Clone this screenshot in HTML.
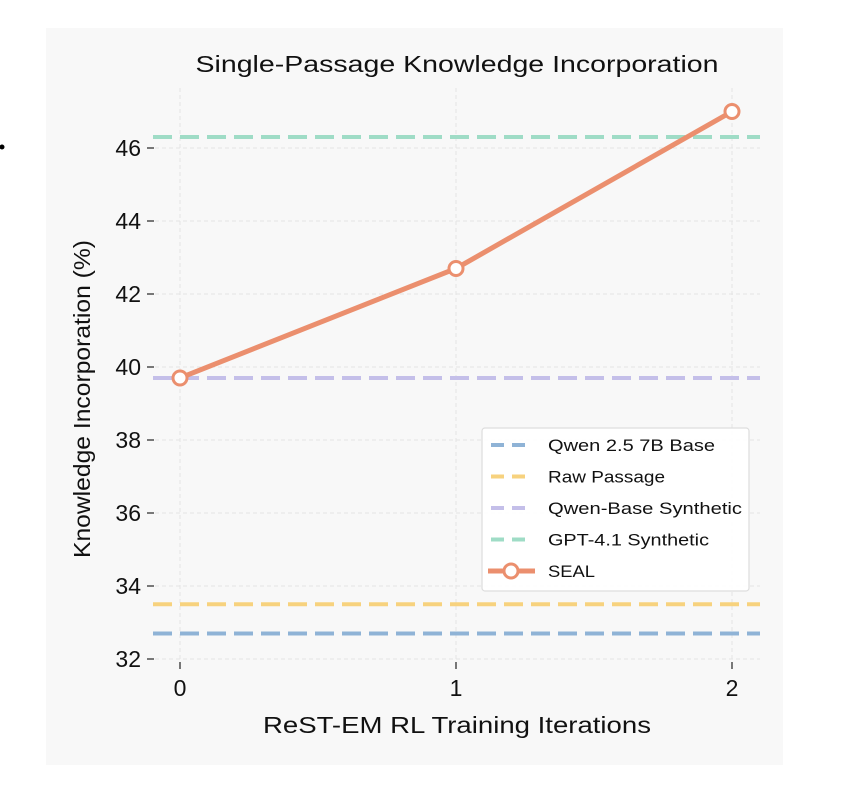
<!DOCTYPE html>
<html><head><meta charset="utf-8"><style>
body{margin:0;background:#fff;width:860px;height:790px;overflow:hidden;font-family:"Liberation Sans",sans-serif}
</style></head><body>
<svg id="chart" width="860" height="790" xmlns="http://www.w3.org/2000/svg">
<rect x="46" y="28" width="737" height="737" fill="#f8f8f8"/>
<circle cx="2" cy="147" r="2.5" fill="#000"/>
<g id="grid"></g><g id="refs"></g><g id="axes"></g><g id="series"></g>
<text x="457" y="72" text-anchor="middle" font-size="23" fill="#111" textLength="523" lengthAdjust="spacingAndGlyphs">Single-Passage Knowledge Incorporation</text>
<text x="457" y="733" text-anchor="middle" font-size="23" fill="#111" textLength="388" lengthAdjust="spacingAndGlyphs">ReST-EM RL Training Iterations</text>
<text transform="translate(90,399) rotate(-90)" text-anchor="middle" font-size="23" fill="#111" textLength="318" lengthAdjust="spacingAndGlyphs">Knowledge Incorporation (%)</text>
<g id="legend"></g>
</svg>
<script>
const xCategories=[0,1,2];
const sealValues=[39.7,42.7,47.0];
const yTicks=[32,34,36,38,40,42,44,46];
const refNames=["Qwen 2.5 7B Base","Raw Passage","Qwen-Base Synthetic","GPT-4.1 Synthetic"];
const refValues=[32.7,33.5,39.7,46.3];
const refColors=["#8fb3d6","#f7d27e","#c4bfe9","#9fdcc6"];
const legendWidths=[167,117,194,161,47];
const NS="http://www.w3.org/2000/svg";
const xs=v=>180+v*276;
const ys=v=>659-(v-32)*36.5;
function mk(tag,at,parent){const e=document.createElementNS(NS,tag);for(const k in at)e.setAttribute(k,at[k]);parent.appendChild(e);return e;}
const grid=document.getElementById('grid'),axes=document.getElementById('axes'),refs=document.getElementById('refs'),series=document.getElementById('series'),legend=document.getElementById('legend');
yTicks.forEach(t=>{
 const g=mk('line',{x1:155,x2:760,y1:ys(t),y2:ys(t),stroke:'#e4e4e4','stroke-dasharray':'4 3','stroke-width':1},grid);
 
 
 const tk=mk('line',{x1:147,x2:154,y1:ys(t),y2:ys(t),stroke:'#222','stroke-width':1.2},axes);
 
 
 const tx=mk('text',{x:141,y:ys(t)+8,'text-anchor':'end','font-size':23,fill:'#111'},axes);tx.textContent=t;
 
 
});
xCategories.forEach(c=>{
 const g=mk('line',{x1:xs(c),x2:xs(c),y1:88,y2:660,stroke:'#e4e4e4','stroke-dasharray':'4 3','stroke-width':1},grid);
 
 
 const tk=mk('line',{x1:xs(c),x2:xs(c),y1:662,y2:669,stroke:'#222','stroke-width':1.2},axes);
 
 
 const tx=mk('text',{x:xs(c),y:696,'text-anchor':'middle','font-size':23,fill:'#111'},axes);tx.textContent=c;
 
 
});
refValues.forEach((v,i)=>{
 const l=mk('line',{x1:153,x2:760,y1:ys(v),y2:ys(v),stroke:refColors[i],'stroke-width':4,'stroke-dasharray':'19 8'},refs);
 
 
});
const pts=sealValues.map((v,i)=>xs(xCategories[i])+','+ys(v)).join(' ');
const pl=mk('polyline',{points:pts,fill:'none',stroke:'#eb8f6e','stroke-width':5},series);


sealValues.forEach((v,i)=>{
 const c=mk('circle',{cx:xs(xCategories[i]),cy:ys(v),r:7,fill:'#fff',stroke:'#eb8f6e','stroke-width':3},series);
 
 
});
mk('rect',{x:482,y:428,width:267,height:163,rx:3,fill:'#fff','fill-opacity':0.9,stroke:'#ddd','stroke-width':1.2},legend);
refNames.forEach((n,i)=>{
 const y=445+i*31.5;
 const l=mk('line',{x1:491,x2:533,y1:y,y2:y,stroke:refColors[i],'stroke-width':4,'stroke-dasharray':'13 8'},legend);
 
 
 const t=mk('text',{x:548,y:y+6,'font-size':17,fill:'#111',textLength:legendWidths[i],lengthAdjust:'spacingAndGlyphs'},legend);t.textContent=n;
 
 
});
const sy=445+4*31.5;
const sl=mk('line',{x1:488,x2:535,y1:sy,y2:sy,stroke:'#eb8f6e','stroke-width':5},legend);


const sc=mk('circle',{cx:511,cy:sy,r:7,fill:'#fff',stroke:'#eb8f6e','stroke-width':3},legend);


const st=mk('text',{x:548,y:sy+6,'font-size':17,fill:'#111',textLength:legendWidths[4],lengthAdjust:'spacingAndGlyphs'},legend);st.textContent='SEAL';


</script>
</body></html>
